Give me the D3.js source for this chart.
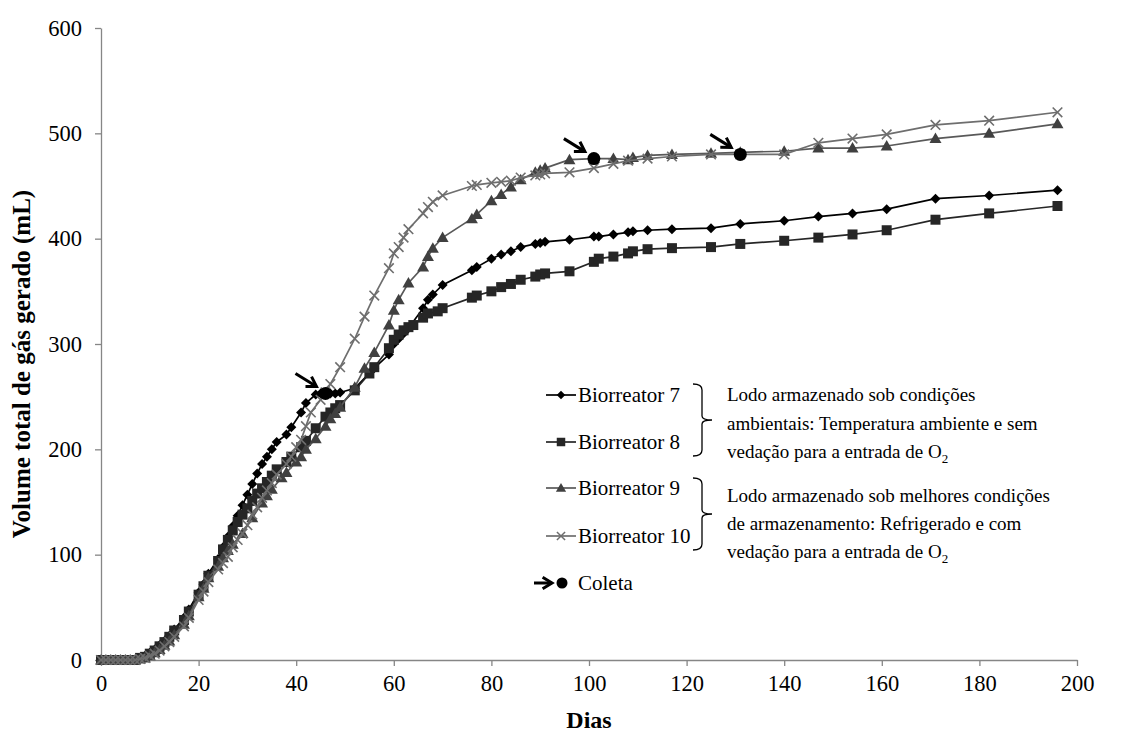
<!DOCTYPE html>
<html><head><meta charset="utf-8">
<script src="https://cdn.jsdelivr.net/npm/d3@7"></script>
<style>
body{margin:0;background:#fff}
svg{display:block}
svg text{font-family:"Liberation Serif","Tinos","Times New Roman","Noto Serif","DejaVu Serif",serif !important;fill:#000}
</style>
</head><body>
<svg id="c" width="1137" height="738"></svg>
<script>
// ---------- data ----------
const xTicks=[0,20,40,60,80,100,120,140,160,180,200];
const yTicks=[0,100,200,300,400,500,600];
const seriesNames=["Biorreator 7","Biorreator 8","Biorreator 9","Biorreator 10"];

// [dia, volume (mL)]
const bio7=[[0,0],[1,0],[2,0],[3,0],[4,0],[5,0],[6,0],[7,0],[8,2],[9,4],[10,7],[11,10],[12,14],[13,18],[14,23],[15,29],[17,40],[18,48],[20,64],[21,72],[22,82],[24,96],[25,107],[26,117],[27,127],[28,137],[29,147],[30,157],[31,167],[32,177],[33,186],[34,193],[35,200],[36,207],[38,214],[39,221],[41,235],[42,244],[44,252],[45,253],[46,253],[47,253],[48,253],[49,254],[52,258],[56,277],[59,290],[60,300],[61,305],[62,310],[63,315],[66,334],[67,342],[68,347],[70,356],[76,370],[77,373],[80,381],[82,385],[84,388],[86,392],[89,395],[90,396],[91,397],[96,399],[101,402],[102,402],[105,404],[108,406],[109,407],[112,408],[117,409],[125,410],[131,414],[140,417],[147,421],[154,424],[161,428],[171,438],[182,441],[196,446]];
const bio8=[[0,0],[1,0],[2,0],[3,0],[4,0],[5,0],[6,0],[7,0],[8,2],[9,3],[10,6],[11,9],[12,13],[13,17],[14,22],[15,28],[17,38],[18,46],[20,62],[21,70],[22,80],[24,94],[25,105],[26,114],[27,123],[28,131],[29,138],[30,144],[31,151],[32,158],[33,163],[34,169],[35,175],[36,181],[38,188],[39,193],[41,202],[42,208],[44,220],[46,231],[47,235],[48,239],[49,242],[52,256],[55,272],[56,278],[59,296],[60,304],[61,309],[62,313],[63,316],[64,318],[66,325],[67,329],[69,331],[70,334],[76,344],[77,346],[80,350],[82,354],[84,357],[86,361],[89,364],[90,366],[91,367],[96,369],[101,378],[102,381],[105,383],[108,386],[109,388],[112,390],[117,391],[125,392],[131,395],[140,398],[147,401],[154,404],[161,408],[171,418],[182,424],[196,431]];
const bio9=[[0,0],[1,0],[2,0],[3,0],[4,0],[5,0],[6,0],[7,0],[8,1],[9,2],[10,4],[11,7],[12,10],[13,14],[14,18],[15,24],[17,34],[18,42],[20,60],[21,68],[22,78],[24,89],[25,97],[26,104],[27,110],[29,120],[31,135],[33,149],[34,156],[35,162],[37,173],[38,178],[40,188],[41,193],[42,200],[44,210],[46,222],[47,229],[48,234],[49,240],[52,259],[54,277],[56,292],[59,318],[60,332],[61,342],[63,358],[66,373],[67,383],[68,391],[70,401],[76,419],[77,423],[80,436],[82,442],[84,449],[86,456],[89,463],[90,465],[91,467],[96,475],[101,476],[105,476],[108,475],[109,477],[112,479],[117,480],[125,481],[131,482],[140,483],[147,486],[154,486],[161,488],[171,495],[182,500],[196,509]];
const bio10=[[0,0],[1,0],[2,0],[3,0],[4,0],[5,0],[6,0],[7,0],[8,1],[9,2],[10,4],[11,6],[12,9],[13,13],[14,17],[15,22],[17,32],[18,40],[20,57],[21,65],[22,74],[24,86],[25,92],[26,98],[27,107],[28,114],[29,120],[30,128],[31,138],[32,145],[33,154],[34,161],[35,168],[36,176],[38,186],[39,193],[40,202],[41,209],[42,222],[43,235],[45,247],[46,254],[47,262],[49,278],[52,305],[54,326],[56,346],[59,372],[60,386],[61,392],[62,401],[63,409],[66,424],[67,430],[68,435],[70,441],[76,450],[77,451],[80,453],[82,454],[84,455],[86,458],[89,460],[90,461],[91,462],[96,463],[101,467],[105,471],[108,474],[112,476],[117,478],[125,480],[131,480],[140,480],[147,491],[154,495],[161,499],[171,508],[182,512],[196,520]];
const coletas=[[46,253],[101,476],[131,480]];
const legendNotes=[
  ["Lodo armazenado sob condições","ambientais: Temperatura ambiente e sem","vedação para a entrada de O|2"],
  ["Lodo armazenado sob melhores condições","de armazenamento: Refrigerado e com","vedação para a entrada de O|2"]
];

// ---------- chart ----------
const svg=d3.select("#c");
const x=d3.scaleLinear().domain([0,200]).range([101,1077]);
const y=d3.scaleLinear().domain([0,600]).range([660,28]);
const axisCol="#868686";

const gx=svg.append("g").attr("transform","translate(0,660)")
  .call(d3.axisBottom(x).tickValues(xTicks).tickSize(6).tickSizeOuter(0).tickPadding(9));
const gy=svg.append("g").attr("transform","translate(101,0)")
  .call(d3.axisLeft(y).tickValues(yTicks).tickSize(6).tickSizeOuter(0).tickPadding(13));
[gx,gy].forEach(g=>{
  g.attr("font-family",null);
  g.select(".domain").attr("stroke",axisCol).attr("stroke-width",1.3);
  g.selectAll(".tick line").attr("stroke",axisCol).attr("stroke-width",1.3);
  g.selectAll(".tick text").attr("font-size",22.5).attr("fill","#000");
});

svg.append("text").attr("x",589).attr("y",728).attr("text-anchor","middle")
  .attr("font-size",24).attr("font-weight","bold").text("Dias");
svg.append("text").attr("transform","translate(30,364) rotate(-90)").attr("text-anchor","middle")
  .attr("font-size",25).attr("font-weight","bold").text("Volume total de gás gerado (mL)");

const styles=[
  {data:bio7,line:"#000",fill:"#000",shape:"diamond"},
  {data:bio8,line:"#262626",fill:"#262626",shape:"square"},
  {data:bio9,line:"#595959",fill:"#404040",shape:"triangle"},
  {data:bio10,line:"#6e6e6e",fill:"#6e6e6e",shape:"x"}
];
function markerPath(shape,k){
  k=k||1;
  if(shape==="diamond") return `M0,${-5*k}L${5*k},0L0,${5*k}L${-5*k},0Z`;
  if(shape==="square") return `M${-5*k},${-5*k}H${5*k}V${5*k}H${-5*k}Z`;
  if(shape==="triangle") return `M0,${-6*k}L${6*k},${4.5*k}L${-6*k},${4.5*k}Z`;
  return `M${-4.8*k},${-4.8*k}L${4.8*k},${4.8*k}M${4.8*k},${-4.8*k}L${-4.8*k},${4.8*k}`;
}
const line=d3.line().x(d=>x(d[0])).y(d=>y(d[1]));
styles.forEach(s=>{
  const g=svg.append("g");
  g.append("path").datum(s.data).attr("d",line).attr("fill","none")
    .attr("stroke",s.line).attr("stroke-width",1.7);
  g.selectAll("path.m").data(s.data).join("path").attr("class","m")
    .attr("transform",d=>`translate(${x(d[0])},${y(d[1])})`)
    .attr("d",markerPath(s.shape))
    .attr("fill",s.shape==="x"?"none":s.fill)
    .attr("stroke",s.shape==="x"?s.fill:"none").attr("stroke-width",1.6);
});

// collection points + arrows
function arrow(g,x1,y1,x2,y2){
  g.append("line").attr("x1",x1).attr("y1",y1).attr("x2",x2).attr("y2",y2)
    .attr("stroke","#000").attr("stroke-width",3);
  const a=Math.atan2(y2-y1,x2-x1),L=11,sp=0.55;
  const p1=[x2-L*Math.cos(a-sp),y2-L*Math.sin(a-sp)];
  const p2=[x2-L*Math.cos(a+sp),y2-L*Math.sin(a+sp)];
  g.append("path").attr("d",`M${p1}L${x2},${y2}L${p2}`).attr("fill","none")
    .attr("stroke","#000").attr("stroke-width",3).attr("stroke-linejoin","miter");
}
const gc=svg.append("g");
coletas.forEach(c=>{
  const cx=x(c[0]),cy=y(c[1]);
  gc.append("circle").attr("cx",cx).attr("cy",cy).attr("r",6.5).attr("fill","#000");
  arrow(gc,cx-30,cy-20,cx-9,cy-7);
});

// legend
const lg=svg.append("g");
const legY=[395,442,488,536];
styles.forEach((s,i)=>{
  lg.append("line").attr("x1",546).attr("x2",576).attr("y1",legY[i]).attr("y2",legY[i])
    .attr("stroke",s.line).attr("stroke-width",1.7);
  lg.append("path").attr("transform",`translate(561,${legY[i]})`).attr("d",markerPath(s.shape,0.85))
    .attr("fill",s.shape==="x"?"none":s.fill).attr("stroke",s.shape==="x"?s.fill:"none").attr("stroke-width",1.5);
  lg.append("text").attr("x",578).attr("y",legY[i]+7).attr("font-size",21).text(seriesNames[i]);
});
// coleta legend
arrow(lg,534,583,552,583);
lg.append("circle").attr("cx",562).attr("cy",583).attr("r",5.5).attr("fill","#000");
lg.append("text").attr("x",578).attr("y",590).attr("font-size",21).text("Coleta");

// brackets
function bracket(top,bot){
  const mid=(top+bot)/2;
  lg.append("path").attr("d",
    `M693,${top}Q702,${top} 702,${top+6}L702,${mid-4}Q702,${mid} 712,${mid}Q702,${mid} 702,${mid+4}L702,${bot-6}Q702,${bot} 693,${bot}`)
    .attr("fill","none").attr("stroke","#000").attr("stroke-width",1.3);
}
bracket(384,456);
bracket(478,550);

const noteBase=[[401,430,458],[502,530,558]];
legendNotes.forEach((lines,b)=>{
  lines.forEach((t,j)=>{
    const tx=lg.append("text").attr("x",727).attr("y",noteBase[b][j]).attr("font-size",19);
    const parts=t.split("|");
    tx.append("tspan").text(parts[0]);
    if(parts[1]) tx.append("tspan").attr("dy",5).attr("font-size",13).text(parts[1]);
  });
});
</script>
</body></html>
